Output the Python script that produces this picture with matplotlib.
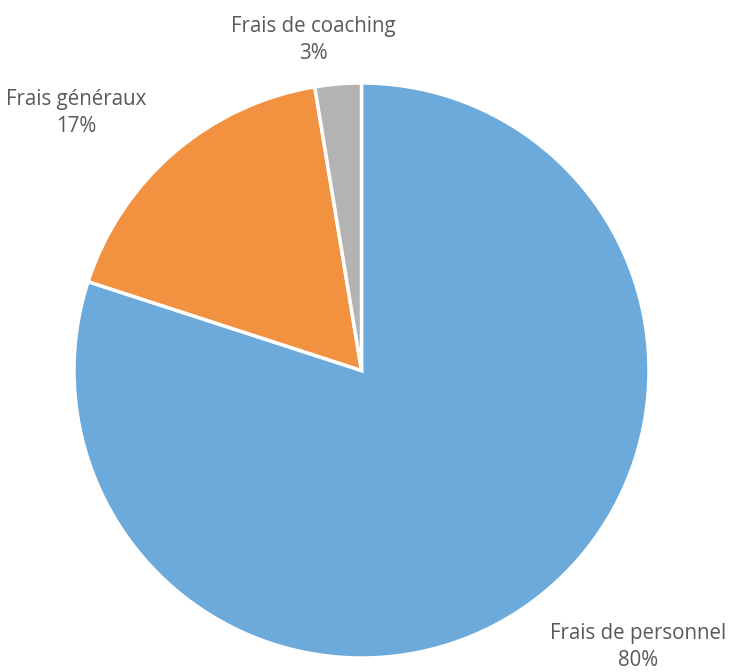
import matplotlib
matplotlib.use("Agg")
import matplotlib.pyplot as plt

categories = ["Frais de personnel", "Frais généraux", "Frais de coaching"]
values = [80.0, 17.4, 2.6]
colors = ["#6CAADC", "#F29241", "#B3B3B3"]

W, H = 731, 672
fig = plt.figure(figsize=(W / 100, H / 100), dpi=100)
fig.patch.set_facecolor("white")

cx, cy, r = 361.5, 370.5, 287.5
ax = fig.add_axes([(cx - r) / W, (H - cy - r) / H, 2 * r / W, 2 * r / H])
ax.pie(values, colors=colors, startangle=90, counterclock=False, radius=1,
       wedgeprops=dict(edgecolor="white", linewidth=2.5))
ax.set_xlim(-1, 1)
ax.set_ylim(-1, 1)
ax.set_aspect("equal")
ax.axis("off")

label_pos = [(638, 647), (76, 113), (313, 40)]
for cat, v, (px, py) in zip(categories, values, label_pos):
    fig.text(px / W, 1 - py / H, f"{cat}\n{round(v):.0f}%", ha="center", va="center",
             fontsize=14.8, color="#595959", family="Open Sans", linespacing=1.32)

fig.savefig("out.png", dpi=100, facecolor="white")
